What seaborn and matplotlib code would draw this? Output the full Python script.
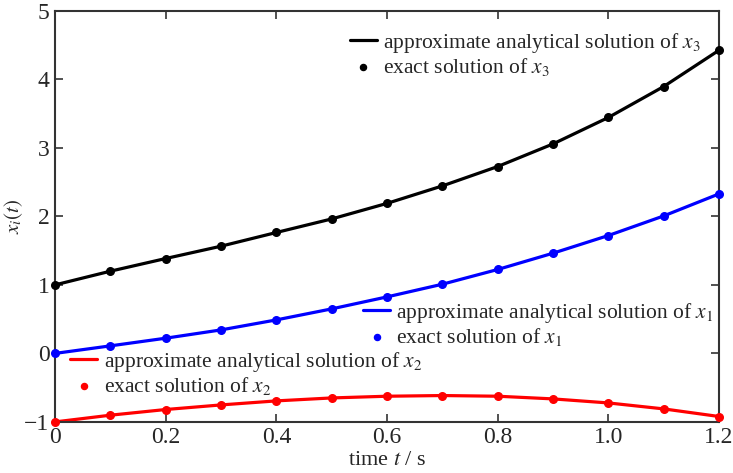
import matplotlib
matplotlib.use('Agg')
import matplotlib.pyplot as plt
import seaborn as sns
import pandas as pd

# data
t = [0.0, 0.1, 0.2, 0.3, 0.4, 0.5, 0.6, 0.7, 0.8, 0.9, 1.0, 1.1, 1.2]
x1 = [0.0, 0.11, 0.222, 0.343, 0.489, 0.65, 0.825, 1.01, 1.225, 1.463, 1.721, 2.007, 2.329]
x2 = [-1.0, -0.902, -0.819, -0.752, -0.693, -0.65, -0.625, -0.615, -0.625, -0.664, -0.723, -0.81, -0.921]
x3 = [1.0, 1.2, 1.385, 1.565, 1.765, 1.963, 2.19, 2.445, 2.728, 3.058, 3.444, 3.896, 4.426]

xticks = [0, 0.2, 0.4, 0.6, 0.8, 1.0, 1.2]
xticklabels = ['0', '0.2', '0.4', '0.6', '0.8', '1.0', '1.2']
yticks = [-1, 0, 1, 2, 3, 4, 5]
yticklabels = ['\u22121', '0', '1', '2', '3', '4', '5']

df = pd.DataFrame({'t': t, 'x1': x1, 'x2': x2, 'x3': x3})

sns.set_style('ticks')
plt.rcParams['font.family'] = ['Liberation Serif', 'DejaVu Serif']
plt.rcParams['mathtext.fontset'] = 'stix'
plt.rcParams['xtick.direction'] = 'in'
plt.rcParams['ytick.direction'] = 'in'

fig = plt.figure(figsize=(7.33, 4.73), dpi=100)
ax = fig.add_axes([0.075, 0.108, 0.906, 0.869])

series = [('x3', 'black', '3'), ('x1', 'blue', '1'), ('x2', 'red', '2')]
handles = {}
for col, color, idx in series:
    sns.lineplot(x='t', y=col, data=df, color=color, linewidth=2.3, ax=ax,
                 label='approximate analytical solution of $x_{' + idx + '}$')
    line_h = ax.get_lines()[-1]
    sc = ax.scatter(df['t'], df[col], color=color, s=30, zorder=3, clip_on=False,
                    label='exact solution of $x_{' + idx + '}$')
    handles[col] = (line_h, sc)

if ax.get_legend() is not None:
    ax.get_legend().remove()

# three separate legends
spots = {'x3': (0.444, 0.952), 'x1': (0.464, 0.295), 'x2': (0.023, 0.175)}
legs = []
for col, color, idx in series:
    lh, sc = handles[col]
    leg = ax.legend([lh, sc], [lh.get_label(), sc.get_label()], loc='upper left',
                    bbox_to_anchor=spots[col], frameon=False, fontsize=15.5,
                    borderpad=0, borderaxespad=0, handlelength=1.25, handletextpad=0.3,
                    labelspacing=0.05, scatterpoints=1, markerscale=0.8)
    legs.append(leg)
for leg in legs[:-1]:
    ax.add_artist(leg)

ax.set_xlim(0, 1.2)
ax.set_ylim(-1, 5)
ax.set_xticks(xticks)
ax.set_xticklabels(xticklabels)
ax.set_yticks(yticks)
ax.set_yticklabels(yticklabels)
ax.tick_params(axis='both', labelsize=17, top=True, right=True, length=6, width=1.2,
               color='#333333', pad=4)
for s in ax.spines.values():
    s.set_linewidth(1.5)
    s.set_color('#333333')

ax.set_xlabel('time $t$ / s', fontsize=16, labelpad=2)
ax.set_ylabel('$x_i(t)$', fontsize=15)
ax.yaxis.set_label_coords(-0.045, 0.5)

fig.savefig('out.png', dpi=100)
